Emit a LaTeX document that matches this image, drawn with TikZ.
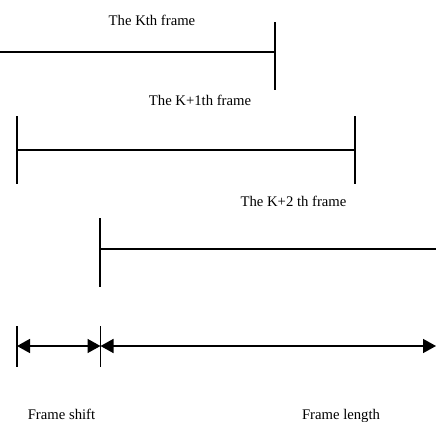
\documentclass[tikz,border=0pt]{standalone}
\usepackage{fontspec}
\setmainfont{Liberation Serif}
\usetikzlibrary{arrows.meta}

\begin{document}
\begin{tikzpicture}[x=1pt, y=-1pt, line width=1.6pt,
    lbl/.style={anchor=base, inner sep=0pt, font=\fontsize{14.7}{16}\selectfont},
    span/.style={{Triangle[length=13pt,width=14pt]}-{Triangle[length=13pt,width=14pt]}}]
      \useasboundingbox (0,0) rectangle (436,421);

      % Кадр K
      \coordinate (kL) at (0,52);
      \coordinate (kR) at (275,52);
      \draw (kL) -- (kR);
      \draw (275,22) -- (275,90);
      \node[lbl] (kLab) at (152,25) {The Kth frame};

      % Кадр K+1
      \coordinate (k1L) at (17,150);
      \coordinate (k1R) at (355,150);
      \draw (k1L) -- (k1R);
      \draw (17,116) -- (17,184);
      \draw (355,116) -- (355,184);
      \node[lbl] (k1Lab) at (200,105) {The K+1th frame};

      % Кадр K+2
      \coordinate (k2L) at (100,249);
      \coordinate (k2R) at (436,249);
      \draw (k2L) -- (k2R);
      \draw (100,218) -- (100,287);
      \node[lbl] (k2Lab) at (293.5,206) {The K+2 th frame};

      % Сдвиг и длина кадра
      \coordinate (sA) at (17,346);
      \coordinate (sB) at (100.5,346);
      \coordinate (sC) at (436,346);
      \draw (17,326) -- (17,367);
      \draw (100.5,326) -- (100.5,367);
      \draw[span] (sA) -- (sB);
      \draw[span] (sB) -- (sC);
      \node[lbl] (shiftLab) at (61.5,419) {Frame shift};
      \node[lbl] (lenLab) at (341,419) {Frame length};
\end{tikzpicture}
\end{document}
